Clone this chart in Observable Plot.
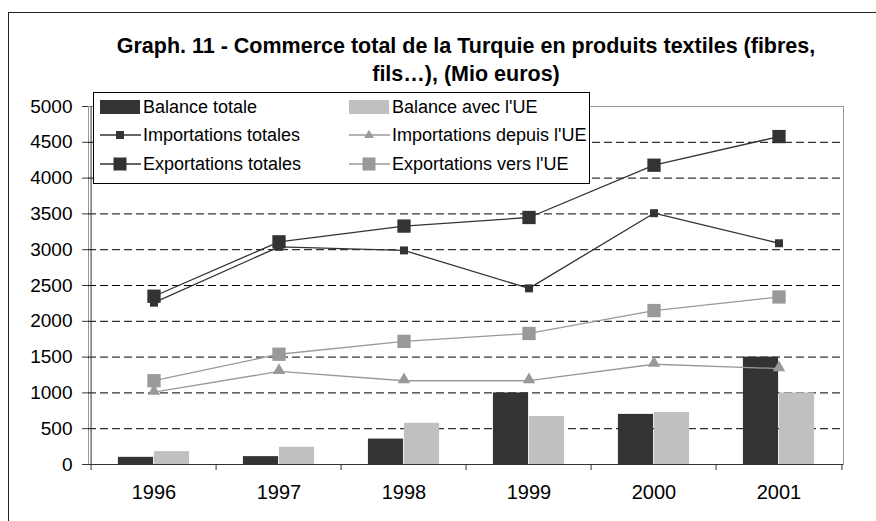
<!DOCTYPE html>
<html>
<head>
<meta charset="utf-8">
<script src="https://cdn.jsdelivr.net/npm/d3@7"></script>
<script src="https://cdn.jsdelivr.net/npm/@observablehq/plot@0.6"></script>
<style>
  html, body { margin: 0; padding: 0; background: #fff; }
  body { width: 876px; height: 521px; overflow: hidden; position: relative; font-family: "Liberation Sans", Arial, sans-serif; }
  #frame { position: absolute; left: 8px; top: 12px; width: 900px; height: 600px; border: 1px solid #222; box-sizing: border-box; pointer-events: none; }
  #title { position: absolute; left: 0; top: 0; width: 932px; height: 90px; text-align: center; font-weight: bold; font-size: 21.5px; line-height: 28px; padding-top: 32px; box-sizing: border-box; color: #000; }
  #chart { position: absolute; left: 0; top: 90px; }
  #legend { position: absolute; left: 93px; top: 92px; width: 497px; height: 92px; border: 1px solid #000; background: #fff; box-sizing: border-box; }
  .item { position: absolute; height: 20px; display: flex; align-items: center; font-size: 18px; color: #000; white-space: nowrap; }
  .item svg { margin-right: 2px; }
</style>
</head>
<body>
<div id="frame"></div>
<div id="title">Graph. 11 - Commerce total de la Turquie en produits textiles (fibres,<br>fils…), (Mio euros)</div>
<div id="chart"></div>
<div id="legend"></div>
<script>
// ---- Data ----
const years = ["1996", "1997", "1998", "1999", "2000", "2001"];
const balanceTotale = [100, 110, 355, 1000, 700, 1500];
const balanceUE = [180, 240, 575, 670, 725, 1000];
const importTotales = [2260, 3040, 2990, 2460, 3510, 3090];
const importUE = [1010, 1300, 1170, 1170, 1400, 1340];
const exportTotales = [2350, 3110, 3330, 3450, 4180, 4580];
const exportUE = [1170, 1540, 1720, 1830, 2150, 2340];
const yTicks = [0, 500, 1000, 1500, 2000, 2500, 3000, 3500, 4000, 4500, 5000];
const gridValues = [500, 1000, 1500, 2000, 2500, 3000, 3500, 4000, 4500];

const seriesNames = {
  bt: "Balance totale",
  bu: "Balance avec l'UE",
  it: "Importations totales",
  iu: "Importations depuis l'UE",
  et: "Exportations totales",
  eu: "Exportations vers l'UE"
};

const rows = (arr) => years.map((y, i) => ({year: y, value: arr[i]}));

// ---- Layout ----
const W = 876, H = 431;
const mL = 88, mR = 33, mT = 16, mB = 57;
const bw = (W - mL - mR) / years.length;
const barW = 36;

const chart = Plot.plot({
  width: W,
  height: H,
  marginLeft: mL,
  marginRight: mR,
  marginTop: mT,
  marginBottom: mB,
  style: {fontFamily: "Liberation Sans, Arial, sans-serif", fontSize: "16px", color: "#000", background: "transparent"},
  x: {type: "band", domain: years, padding: 0, axis: null, label: null},
  y: {domain: [0, 5000], axis: null, label: null},
  marks: [
    Plot.frame({stroke: "#999"}),
    Plot.ruleY(gridValues, {stroke: "#000", strokeDasharray: "8,4", strokeWidth: 1}),
    Plot.barY(rows(balanceTotale), {x: "year", y: "value", fill: "#333333", insetLeft: bw / 2 - barW, insetRight: bw / 2}),
    Plot.barY(rows(balanceUE), {x: "year", y: "value", fill: "#c0c0c0", insetLeft: bw / 2, insetRight: bw / 2 - barW}),
    Plot.ruleY([0], {stroke: "#333"}),
    Plot.ruleX([years[0]], {dx: -bw / 2, stroke: "#333"}),
    // x boundary ticks
    Plot.ruleX(years, {dx: -bw / 2, y1: 0, y2: 85, dy: 6, stroke: "#333"}),
    Plot.ruleX([years[years.length - 1]], {dx: bw / 2, y1: 0, y2: 85, dy: 6, stroke: "#333"}),
    Plot.axisX({tickSize: 0, tickPadding: 20, fontSize: 20, label: null}),
    Plot.axisY({ticks: yTicks, tickFormat: (d) => String(d), tickSize: 6, tickPadding: 10, fontSize: 19, stroke: "#333", label: null}),
    // lines
    Plot.line(rows(importUE), {x: "year", y: "value", stroke: "#999", strokeWidth: 1.3}),
    Plot.line(rows(exportUE), {x: "year", y: "value", stroke: "#999", strokeWidth: 1.3}),
    Plot.line(rows(importTotales), {x: "year", y: "value", stroke: "#333", strokeWidth: 1.3}),
    Plot.line(rows(exportTotales), {x: "year", y: "value", stroke: "#333", strokeWidth: 1.3}),
    // markers
    Plot.dot(rows(importUE), {x: "year", y: "value", symbol: "triangle", r: 4.6, fill: "#999", dy: -1}),
    Plot.dot(rows(exportUE), {x: "year", y: "value", symbol: "square", r: 7.5, fill: "#999"}),
    Plot.dot(rows(importTotales), {x: "year", y: "value", symbol: "square", r: 4.5, fill: "#333"}),
    Plot.dot(rows(exportTotales), {x: "year", y: "value", symbol: "square", r: 7.5, fill: "#333"})
  ]
});
document.getElementById("chart").appendChild(chart);

// ---- Legend ----
const legendItems = [
  {key: "bt", kind: "bar", color: "#333333", left: 5, top: 4},
  {key: "bu", kind: "bar", color: "#c0c0c0", left: 254, top: 4},
  {key: "it", kind: "line", color: "#333", marker: "square", size: 8, left: 5, top: 32},
  {key: "iu", kind: "line", color: "#999", marker: "triangle", size: 8, left: 254, top: 32},
  {key: "et", kind: "line", color: "#333", marker: "square", size: 13, left: 5, top: 61},
  {key: "eu", kind: "line", color: "#999", marker: "square", size: 13, left: 254, top: 61}
];
const legend = document.getElementById("legend");
const ns = "http://www.w3.org/2000/svg";
for (const it of legendItems) {
  const div = document.createElement("div");
  div.className = "item";
  div.style.left = it.left + "px";
  div.style.top = it.top + "px";
  const svg = document.createElementNS(ns, "svg");
  svg.setAttribute("width", 42);
  svg.setAttribute("height", 20);
  if (it.kind === "bar") {
    const r = document.createElementNS(ns, "rect");
    r.setAttribute("x", 1); r.setAttribute("y", 3);
    r.setAttribute("width", 40); r.setAttribute("height", 14);
    r.setAttribute("fill", it.color);
    svg.appendChild(r);
  } else {
    const l = document.createElementNS(ns, "line");
    l.setAttribute("x1", 1); l.setAttribute("x2", 42);
    l.setAttribute("y1", 10); l.setAttribute("y2", 10);
    l.setAttribute("stroke", it.color); l.setAttribute("stroke-width", 1.3);
    svg.appendChild(l);
    if (it.marker === "square") {
      const r = document.createElementNS(ns, "rect");
      r.setAttribute("x", 21 - it.size / 2); r.setAttribute("y", 10 - it.size / 2);
      r.setAttribute("width", it.size); r.setAttribute("height", it.size);
      r.setAttribute("fill", it.color);
      svg.appendChild(r);
    } else {
      const p = document.createElementNS(ns, "path");
      p.setAttribute("d", "M21,5 L26,13 L16,13 Z");
      p.setAttribute("fill", it.color);
      svg.appendChild(p);
    }
  }
  div.appendChild(svg);
  const span = document.createElement("span");
  span.textContent = seriesNames[it.key];
  div.appendChild(span);
  legend.appendChild(div);
}
</script>
</body>
</html>
